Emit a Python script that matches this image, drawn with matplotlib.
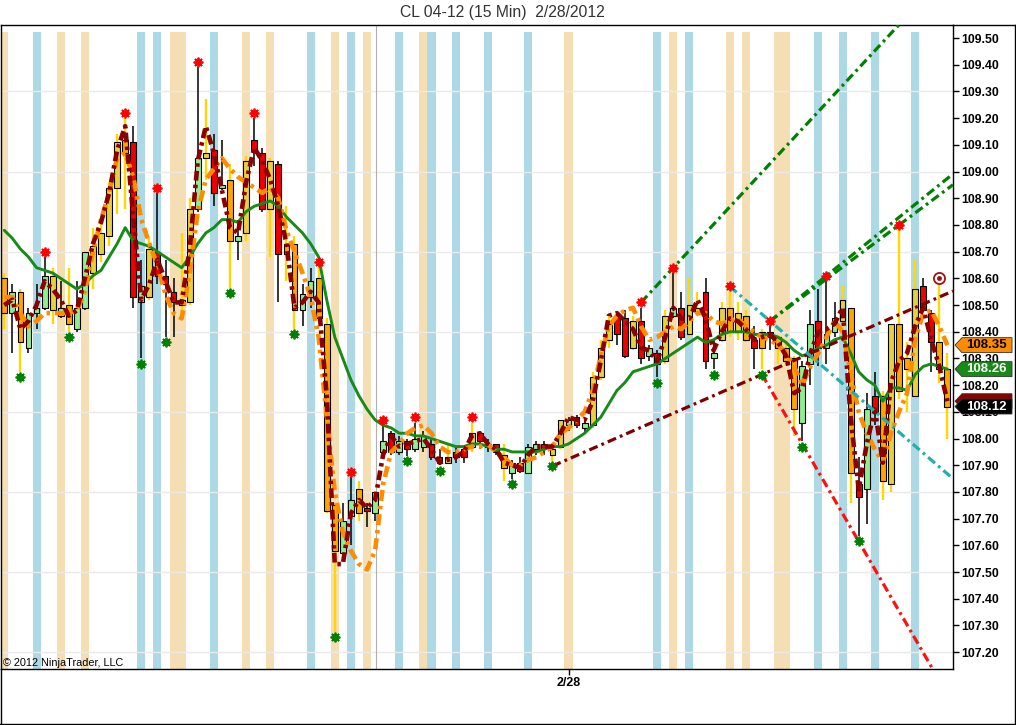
import numpy as np
import matplotlib
matplotlib.use("Agg")
import matplotlib.pyplot as plt
from matplotlib.patches import Polygon
from matplotlib.lines import Line2D
import matplotlib.transforms as mtransforms

plt.rcParams['font.family'] = ['Liberation Sans', 'DejaVu Sans']
plt.rcParams['lines.scale_dashes'] = False

# ---------------- data ----------------
title = "CL 04-12 (15 Min)  2/28/2012"
copyright_text = "\u00a9 2012 NinjaTrader, LLC"
date_tick_bar = 70
date_tick_label = "2/28"
session_break_bar = 46.1

opens = [108.60,108.47,108.55,108.34,108.47,108.49,108.48,108.46,108.50,108.41,
         108.49,108.62,108.69,108.76,108.94,109.12,109.11,108.51,108.53,108.70,
         108.61,108.55,108.50,108.51,108.86,109.05,109.08,108.94,108.97,108.74,
         108.77,109.12,109.07,108.86,109.03,108.73,108.73,108.48,108.53,108.60,
         108.43,107.75,107.57,107.71,107.81,107.74,107.72,107.95,108.02,107.95,
         107.99,107.96,107.97,107.98,107.93,107.91,107.95,107.96,107.97,108.02,
         107.97,107.98,107.94,107.87,107.91,107.87,107.96,107.98,107.94,107.97,
         108.05,108.08,108.04,108.05,108.23,108.37,108.46,108.45,108.34,108.44,
         108.31,108.32,108.29,108.46,108.49,108.39,108.47,108.55,108.30,108.37,
         108.49,108.40,108.46,108.37,108.40,108.40,108.38,108.34,108.30,108.06,
         108.28,108.44,108.34,108.40,108.44,108.49,107.83,107.81,108.16,108.16,
         107.83,108.43,108.30,108.16,108.57,108.47,108.36,108.26]
highs = [108.62,108.58,108.56,108.49,108.58,108.68,108.64,108.59,108.64,108.59,
         108.70,108.79,108.82,108.96,109.14,109.20,109.17,108.67,108.75,108.92,
         108.67,108.60,108.77,108.90,109.39,109.27,109.14,109.12,109.03,108.82,
         109.06,109.20,109.09,109.05,109.04,108.87,108.76,108.58,108.64,108.64,
         108.45,107.76,107.76,107.855,107.84,107.76,107.80,108.05,108.03,108.01,
         108.00,108.06,108.03,108.00,107.96,107.98,107.97,107.97,108.06,108.03,
         108.00,107.98,107.98,107.92,107.93,107.98,107.99,107.99,107.97,108.07,
         108.08,108.09,108.07,108.25,108.37,108.46,108.47,108.48,108.46,108.49,
         108.35,108.33,108.48,108.62,108.55,108.60,108.55,108.60,108.37,108.51,
         108.55,108.51,108.48,108.42,108.41,108.42,108.38,108.36,108.31,108.29,
         108.48,108.56,108.59,108.51,108.57,108.49,107.93,108.17,108.25,108.18,
         108.43,108.78,108.36,108.67,108.60,108.48,108.58,108.32]
lows = [108.41,108.32,108.25,108.32,108.41,108.48,108.43,108.45,108.40,108.40,
        108.48,108.56,108.66,108.72,108.84,108.86,108.49,108.30,108.52,108.58,
        108.38,108.38,108.45,108.50,108.85,108.97,108.87,108.93,108.565,108.67,
        108.74,109.02,108.85,108.68,108.51,108.59,108.41,108.42,108.49,108.44,
        107.72,107.275,107.57,107.60,107.69,107.67,107.69,107.95,107.94,107.94,
        107.935,107.95,107.95,107.92,107.90,107.91,107.91,107.91,107.95,107.96,
        107.95,107.94,107.84,107.85,107.87,107.87,107.94,107.94,107.917,107.96,
        108.03,108.04,108.02,108.04,108.22,108.34,108.35,108.30,108.33,108.28,
        108.29,108.23,108.28,108.45,108.37,108.38,108.46,108.26,108.26,108.36,
        108.38,108.37,108.36,108.26,108.26,108.33,108.28,108.27,108.01,107.99,
        108.20,108.27,108.28,108.38,108.41,107.76,107.635,107.68,108.05,107.77,
        107.80,108.15,108.10,108.16,108.48,108.25,108.21,108.00]
closes = [108.47,108.55,108.36,108.47,108.49,108.61,108.61,108.49,108.43,108.49,
          108.70,108.72,108.77,108.94,109.11,109.07,108.53,108.57,108.71,108.61,
          108.58,108.51,108.52,108.86,109.05,109.07,108.92,108.95,108.74,108.76,
          109.04,109.08,108.86,109.04,108.69,108.69,108.48,108.54,108.59,108.45,
          107.73,107.58,107.69,107.77,107.72,107.73,107.80,107.99,107.95,107.99,
          107.96,108.00,108.01,107.93,107.91,107.93,107.93,107.93,108.02,107.99,
          107.98,107.95,107.89,107.91,107.88,107.97,107.98,107.96,107.96,108.07,
          108.07,108.05,108.06,108.23,108.34,108.43,108.39,108.31,108.44,108.30,
          108.34,108.28,108.46,108.49,108.38,108.50,108.49,108.29,108.32,108.49,
          108.40,108.47,108.37,108.34,108.34,108.38,108.34,108.29,108.11,108.27,
          108.43,108.34,108.39,108.45,108.52,107.87,107.78,108.11,108.10,107.84,
          108.43,108.18,108.26,108.56,108.48,108.36,108.26,108.12]
# body colour codes per bar: r = red, g = light green, o = orange, y = gold
bar_colors = "".join(["ogogggygog", "gyyyyorgyr", "rryygyrgog", "yrryrooggo",
                      "ooggorggrg", "rggrryrryr", "grogrggryy", "grgyyyrryr",
                      "grygryyrgy", "oyororooog", "grggyorgro", "yooyrroo"])

sma_green = [108.78,108.75,108.71,108.68,108.64,108.63,108.62,108.60,108.58,108.56,
             108.58,108.61,108.63,108.68,108.73,108.79,108.74,108.73,108.72,108.70,
             108.68,108.66,108.64,108.68,108.73,108.77,108.79,108.82,108.82,108.81,
             108.85,108.87,108.88,108.89,108.87,108.83,108.80,108.77,108.73,108.68,
             108.52,108.38,108.30,108.22,108.16,108.11,108.07,108.05,108.04,108.02,
             108.02,108.01,108.01,108.00,107.99,107.98,107.97,107.97,107.98,107.98,
             107.97,107.96,107.96,107.95,107.95,107.95,107.95,107.96,107.97,107.97,
             107.98,108.00,108.02,108.05,108.08,108.13,108.18,108.21,108.25,108.26,
             108.27,108.28,108.30,108.32,108.34,108.36,108.38,108.36,108.37,108.39,
             108.40,108.40,108.40,108.39,108.39,108.39,108.38,108.36,108.33,108.31,
             108.32,108.34,108.35,108.37,108.38,108.32,108.25,108.22,108.20,108.14,
             108.19,108.19,108.18,108.24,108.27,108.28,108.27,108.26]
ma_orange = [108.53,108.53,108.47,108.42,108.44,108.47,108.47,108.47,108.47,108.48,
             108.55,108.70,108.82,108.92,109.05,109.07,108.98,108.82,108.73,108.65,
             108.54,108.47,108.45,108.62,108.85,108.97,109.01,109.05,109.01,108.98,
             108.96,108.94,108.92,108.94,108.90,108.78,108.70,108.62,108.53,108.38,
             108.08,107.80,107.65,107.58,107.53,107.51,107.58,107.83,107.95,107.98,
             108.02,108.04,108.05,108.02,107.97,107.95,107.95,107.96,107.97,107.97,
             107.98,107.95,107.93,107.90,107.90,107.92,107.93,107.95,107.97,108.02,
             108.04,108.07,108.10,108.18,108.31,108.42,108.46,108.48,108.49,108.42,
             108.37,108.38,108.40,108.42,108.41,108.44,108.47,108.47,108.44,108.43,
             108.44,108.45,108.42,108.40,108.38,108.37,108.35,108.32,108.27,108.20,
             108.27,108.32,108.38,108.44,108.40,108.25,108.10,108.02,107.96,107.91,
             108.02,108.10,108.17,108.37,108.47,108.48,108.42,108.35]
ma_darkred = [108.50,108.52,108.41,108.44,108.50,108.59,108.56,108.52,108.46,108.48,
              108.60,108.73,108.81,108.92,109.08,109.17,108.83,108.52,108.58,108.67,
              108.59,108.51,108.51,108.71,109.04,109.17,109.07,108.93,108.79,108.77,
              108.96,109.09,109.04,108.97,108.87,108.73,108.49,108.51,108.55,108.51,
              108.16,107.53,107.53,107.72,107.77,107.74,107.77,107.94,108.01,107.97,
              107.98,107.99,108.00,107.96,107.91,107.92,107.93,107.95,108.01,108.02,
              107.98,107.96,107.91,107.90,107.89,107.94,107.97,107.97,107.97,108.02,
              108.08,108.07,108.07,108.14,108.29,108.46,108.47,108.44,108.41,108.34,
              108.33,108.29,108.38,108.49,108.45,108.45,108.52,108.45,108.33,108.40,
              108.45,108.44,108.41,108.37,108.38,108.39,108.36,108.31,108.17,108.19,
              108.32,108.40,108.41,108.43,108.49,108.08,107.81,107.98,108.11,107.91,
              108.21,108.29,108.32,108.42,108.49,108.37,108.27,108.14]

swing_high_bars = [5, 15, 19, 24, 31, 39, 43, 47, 51, 58, 79, 83, 90, 95, 102, 111]
swing_low_bars = [2, 8, 17, 20, 28, 36, 41, 50, 54, 63, 68, 81, 88, 94, 99, 106]
target_bar = 116

blue_band_bars = [4, 17, 19, 26, 38, 43, 49, 53, 56, 60, 65, 81, 85, 101, 104, 108, 113]
wheat_band_bars = [0, 7, 10, 21, 22, 30, 33, 41, 45, 52, 70, 83, 90, 92, 96, 97]

# trend lines: (bar a, kind a, bar b, kind b, colour)
trend_lines = [(79, 'H', 83, 'H', '#008000'),
               (95, 'H', 102, 'H', '#008000'),
               (95, 'H', 111, 'H', '#008000'),
               (68, 'L', 94, 'L', '#800000'),
               (90, 'H', 95, 'H', '#20B2AA'),
               (94, 'L', 106, 'L', '#FF1010')]

price_ticks = [round(107.2 + 0.1 * k, 2) for k in range(24)]
grid_levels = [107.2, 107.5, 107.8, 108.1, 108.4, 108.7, 109.0, 109.3]

# ---------------- figure ----------------
W, H = 1016, 725
fig = plt.figure(figsize=(W / 100, H / 100), dpi=100)
fig.patch.set_facecolor('white')

ax_l, ax_r, ax_t, ax_b = 1, 953, 25, 669
ax = fig.add_axes([ax_l / W, 1 - ax_b / H, (ax_r - ax_l) / W, (ax_b - ax_t) / H])
n = len(closes)
bars = np.arange(n)
ax.set_xlim(-0.41, 117.70)
ax.set_ylim(107.137, 109.549)

band_top = (ax_b - 32) / (ax_b - ax_t)
for b in blue_band_bars:
    ax.axvspan(b - 0.5, b + 0.5, ymin=0, ymax=band_top, color='#ADD8E6', lw=0, zorder=0)
for b in wheat_band_bars:
    ax.axvspan(b - 0.5, b + 0.5, ymin=0, ymax=band_top, color='#F5DEB3', lw=0, zorder=0)
for g in grid_levels:
    ax.axhline(g, color='#EAEAEA', lw=1.0, zorder=0.5)
ax.axvline(session_break_bar, color='#B0B0B0', lw=0.8, zorder=0.6)

body_map = {'r': '#EE0000', 'g': '#90EE90', 'o': '#FFA500', 'y': '#E6D040'}
wick_map = {'r': 'black', 'g': 'black', 'o': '#FFD700', 'y': '#FFD700'}
codes = list(bar_colors)[:n]
o = np.array(opens); c = np.array(closes); h = np.array(highs); l = np.array(lows)
for i in range(n):
    wc = wick_map[codes[i]]
    ax.vlines(bars[i], l[i], h[i], color=wc, lw=1.7 if wc != 'black' else 1.1, zorder=2)
bottom = np.minimum(o, c)
height = np.maximum(np.abs(c - o), 0.006)
ax.bar(bars, height, bottom=bottom, width=0.72,
       color=[body_map[k] for k in codes], edgecolor='black', linewidth=0.8, zorder=2.2)

ax.plot(bars, sma_green, color='#178A17', lw=2.1, zorder=3, solid_capstyle='round')
ax.plot(bars, ma_orange, color='#FF8C00', lw=3.3, dashes=(8, 3.5, 2.5, 3.5), zorder=3.5)
ax.plot(bars, ma_darkred, color='#8B0000', lw=3.3, dashes=(7, 3, 2.5, 3), zorder=4)

def star_price(b, kind):
    return highs[b] + 0.02 if kind == 'H' else lows[b] - 0.02

x_end = ax.get_xlim()[1]
for a, ka, b2, kb, col in trend_lines:
    pa, pb = star_price(a, ka), star_price(b2, kb)
    slope = (pb - pa) / (b2 - a)
    ax.plot([a, x_end], [pa, pa + slope * (x_end - a)], color=col, lw=2.3,
            dashes=(6.5, 3, 2, 3), zorder=5)

sh_y = [star_price(b, 'H') for b in swing_high_bars]
sl_y = [star_price(b, 'L') for b in swing_low_bars]
ax.plot(swing_high_bars, sh_y, ls='none', marker=(8, 2, 0), ms=7, mew=1.3, color='#FF0000', zorder=6)
ax.plot(swing_high_bars, sh_y, ls='none', marker='o', ms=3.5, color='#FF0000', zorder=6)
ax.plot(swing_low_bars, sl_y, ls='none', marker=(8, 2, 0), ms=7, mew=1.3, color='#008000', zorder=6)
ax.plot(swing_low_bars, sl_y, ls='none', marker='o', ms=3.5, color='#008000', zorder=6)
ty = highs[target_bar] + 0.02
ax.plot([target_bar], [ty], ls='none', marker='o', ms=8, mfc='white', mec='#A01010', mew=1.3, zorder=6)
ax.plot([target_bar], [ty], ls='none', marker='o', ms=2.5, color='#A01010', zorder=6.1)

# axes styling
for s in ax.spines.values():
    s.set_color('black'); s.set_linewidth(1.0)
ax.yaxis.tick_right()
ax.set_yticks(price_ticks)
ax.set_yticklabels([f"{v:.2f}" for v in price_ticks])
ax.tick_params(axis='y', right=True, left=False, labelright=True, labelleft=False,
               length=4.3, width=1.0, pad=2, direction='out', labelsize=8.8)
for t in ax.get_yticklabels():
    t.set_fontweight('bold')
ax.set_xticks([date_tick_bar])
ax.set_xticklabels([date_tick_label])
ax.tick_params(axis='x', length=4.3, width=1.0, pad=1.5, direction='out', labelsize=9)
for t in ax.get_xticklabels():
    t.set_fontweight('bold')

# price tags on the axis
blend = mtransforms.blended_transform_factory(fig.transFigure, ax.transData)
def tag(value, face, txtcol, show_text=True):
    hh = 0.028
    x0, x1, x2 = 955 / W, 962 / W, 1012 / W
    poly = Polygon([(x0, value), (x1, value + hh), (x2, value + hh), (x2, value - hh), (x1, value - hh)],
                   closed=True, transform=blend, facecolor=face, edgecolor='#333333', lw=0.6,
                   clip_on=False, zorder=10)
    fig.add_artist(poly)
    if show_text:
        fig.text(986 / W, value, f"{value:.2f}", transform=blend, fontsize=9.5, fontweight='bold',
                 color=txtcol, ha='center', va='center', zorder=11)

tag(ma_orange[-1], '#FF8C00', 'black')
tag(sma_green[-1], '#178A17', 'white')
tag(ma_darkred[-1], '#8B0000', 'white', show_text=False)  # hidden behind the close tag
tag(closes[-1], 'black', 'white')

# frame lines of the chart panel
for (xa, ya, xb, yb) in [(953, 25, 1015, 25), (1015, 25, 1015, 724),
                         (0, 724, 1015, 724), (0.5, 669, 0.5, 724)]:
    fig.add_artist(Line2D([xa / W, xb / W], [1 - ya / H, 1 - yb / H], color='black', lw=1.0,
                          transform=fig.transFigure))

fig.text(502 / W, 1 - 13 / H, title, ha='center', va='center', fontsize=11.3, color='#333333')
fig.text(3 / W, 1 - 666 / H, copyright_text, ha='left', va='baseline', fontsize=7.8, color='black', zorder=12)

fig.savefig("out.png", dpi=100, facecolor='white')
